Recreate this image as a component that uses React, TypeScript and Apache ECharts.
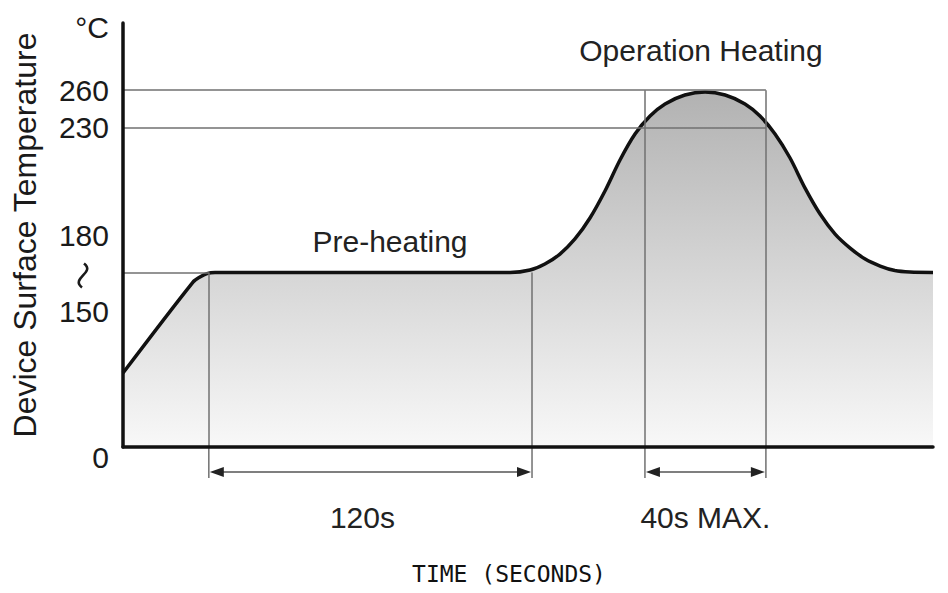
import React, { useEffect, useRef } from 'react';
import * as echarts from 'echarts';

// Reflow profile: time (s) vs. temperature level on the (schematic) drawn axis
const profileTime = [
  0, 26.1, 28.7, 31.3, 34.3, 144.3, 151.75, 157.3, 162.9, 168.5, 174.1, 179.7, 185.3, 190.9, 196.5, 202.1, 209.5, 217,
  224.5, 231.9, 237.5, 243.1, 248.7, 254.3, 259.9, 265.5, 271.1, 276.7, 282.3, 287.8, 293.4, 302,
];
const profileTemp = [
  53.9, 120.2, 123.9, 126.4, 127.2, 127.2, 129.0, 133.4, 140.6, 151.6, 166.9, 186.6, 209.2, 228.1, 241.2, 250.0, 256.5, 258.7,
  256.5, 250.0, 241.2, 228.1, 210.6, 188.7, 169.8, 155.2, 145.0, 137.0, 131.9, 128.6, 127.5, 127.2,
];

// Axis tick labels and the level at which each one sits on the drawn axis
const yLabelText = ['0', '150', '180', '230', '260', '°C'];
const yLabelAt = [0, 99, 154.5, 233, 260, 306];

// Reference levels
const plateauLevel = 127.2;
const peakLevel = 260;
const thresholdLevel = 233;
const squiggleLevel = 125; // "150 ~ 180" range mark between the two labels

// Timed spans (s)
const spanStart = [32, 194.6];
const spanEnd = [152.5, 239.7];
const spanLabels = ['120s', '40s MAX.'];

const spanTopLevel = [plateauLevel, peakLevel];

const TICK_FONT = '"Liberation Sans", Arial, sans-serif';
const TEXT_FONT = '"Liberation Sans", Arial, sans-serif';

export default function App() {
  const ref = useRef<HTMLDivElement>(null);

  useEffect(() => {
    const el = ref.current!;
    const chart = echarts.init(el, null, { renderer: 'svg' });

    const guide = { color: '#707070', width: 1.5, type: 'solid' as const };
    const markData: any[] = [
      [{ coord: [0, peakLevel] }, { coord: [spanEnd[1], peakLevel] }],
      [{ coord: [0, thresholdLevel] }, { coord: [spanEnd[1], thresholdLevel] }],
      [{ coord: [0, plateauLevel] }, { coord: [spanStart[0], plateauLevel] }],
    ];
    spanStart.forEach((s, i) => {
      markData.push([{ coord: [s, spanTopLevel[i]] }, { coord: [s, 0] }]);
      markData.push([{ coord: [spanEnd[i], spanTopLevel[i]] }, { coord: [spanEnd[i], 0] }]);
    });

    const option: any = {
      animation: false,
      backgroundColor: '#ffffff',
      grid: { left: 123, right: 15, top: 23, bottom: 146, outerBoundsMode: 'none', containLabel: false },
      xAxis: {
        type: 'value',
        min: 0,
        max: 302,
        z: 5,
        axisLine: { show: true, onZero: false, lineStyle: { color: '#111', width: 3.5 } },
        axisTick: { show: false },
        axisLabel: { show: false },
        splitLine: { show: false },
        name: 'TIME (SECONDS)',
        nameLocation: 'middle',
        nameGap: 115,
        nameMoveOverlap: false,
        nameTextStyle: {
          fontFamily: '"DejaVu Sans Mono", monospace',
          fontSize: 23,
          color: '#111',
          padding: [0, 38, 0, 0],
        },
      },
      yAxis: {
        type: 'value',
        min: 0,
        max: 309,
        z: 5,
        axisLine: { show: true, onZero: false, lineStyle: { color: '#111', width: 3.5 } },
        axisTick: { show: false },
        splitLine: { show: false },
        axisLabel: {
          customValues: yLabelAt,
          margin: 14,
          color: '#1a1a1a',
          fontFamily: TICK_FONT,
          fontSize: 30,
          formatter: (v: number) => {
            const i = yLabelAt.findIndex((a) => Math.abs(a - v) < 0.01);
            if (i < 0) return '';
            const t = yLabelText[i];
            if (t === '0') return '{zero|0}';
            if (t === '°C') return '{unit|°C}';
            return t;
          },
          rich: {
            zero: { fontFamily: TICK_FONT, fontSize: 30, color: '#1a1a1a', padding: [20, 0, 0, 0] },
            unit: { fontFamily: TEXT_FONT, fontSize: 30, color: '#1a1a1a' },
          },
        },
        name: 'Device Surface Temperature',
        nameLocation: 'middle',
        nameRotate: 90,
        nameGap: 82,
        nameMoveOverlap: false,
        nameTextStyle: { fontFamily: TEXT_FONT, fontSize: 32, color: '#1a1a1a' },
      },
      series: [
        {
          type: 'line',
          data: profileTime.map((t, i) => [t, profileTemp[i]]),
          symbol: 'none',
          smooth: 0.3,
          z: 2,
          lineStyle: { color: '#111', width: 3.5 },
          areaStyle: {
            origin: 'start',
            opacity: 1,
            color: new echarts.graphic.LinearGradient(0, 0, 0, 1, [
              { offset: 0, color: '#b2b2b2' },
              { offset: 1, color: '#f8f8f8' },
            ]),
          },
          markLine: {
            silent: true,
            symbol: ['none', 'none'],
            label: { show: false },
            emphasis: { disabled: true },
            lineStyle: guide,
            data: markData,
          },
        },
      ],
    };

    chart.setOption(option);

    const axisY = chart.convertToPixel({ yAxisIndex: 0 }, 0) as number;
    const axisX = chart.convertToPixel({ xAxisIndex: 0 }, 0) as number;
    const sqY = chart.convertToPixel({ yAxisIndex: 0 }, squiggleLevel) as number;
    const sqX = axisX - 40;
    const elements: any[] = [
      {
        type: 'bezierCurve',
        silent: true,
        shape: {
          x1: sqX + 1, y1: sqY - 12,
          cpx1: sqX + 13, cpy1: sqY - 3,
          cpx2: sqX - 13, cpy2: sqY + 3,
          x2: sqX - 1, y2: sqY + 12,
        },
        style: { stroke: '#1a1a1a', lineWidth: 2.6, fill: null },
      },
      {
        type: 'text',
        x: 390,
        y: 241,
        silent: true,
        style: { text: 'Pre-heating', fontFamily: TEXT_FONT, fontSize: 30, fill: '#222', align: 'center', verticalAlign: 'middle' },
      },
      {
        type: 'text',
        x: 701,
        y: 50,
        silent: true,
        style: { text: 'Operation Heating', fontFamily: TEXT_FONT, fontSize: 30, fill: '#222', align: 'center', verticalAlign: 'middle' },
      },
    ];
    spanStart.forEach((s, i) => {
      const x0 = chart.convertToPixel({ xAxisIndex: 0 }, s) as number;
      const x1 = chart.convertToPixel({ xAxisIndex: 0 }, spanEnd[i]) as number;
      const ay = axisY + 25;
      const lineStyle = { stroke: '#707070', lineWidth: 1.5 };
      elements.push(
        { type: 'line', silent: true, z: 3, shape: { x1: x0, y1: axisY, x2: x0, y2: axisY + 31 }, style: lineStyle },
        { type: 'line', silent: true, z: 3, shape: { x1: x1, y1: axisY, x2: x1, y2: axisY + 31 }, style: lineStyle },
        { type: 'line', silent: true, z: 3, shape: { x1: x0 + 4, y1: ay, x2: x1 - 4, y2: ay }, style: { stroke: '#555', lineWidth: 1.5 } },
        { type: 'polygon', silent: true, z: 3, shape: { points: [[x0 + 1, ay], [x0 + 15, ay - 5], [x0 + 15, ay + 5]] }, style: { fill: '#222' } },
        { type: 'polygon', silent: true, z: 3, shape: { points: [[x1 - 1, ay], [x1 - 15, ay - 5], [x1 - 15, ay + 5]] }, style: { fill: '#222' } },
        {
          type: 'text',
          silent: true,
          z: 3,
          x: (x0 + x1) / 2 - (i === 0 ? 8 : 0),
          y: axisY + 70,
          style: { text: spanLabels[i], fontFamily: TEXT_FONT, fontSize: 30, fill: '#222', align: 'center', verticalAlign: 'middle' },
        }
      );
    });
    chart.setOption({ graphic: { elements } });

    return () => chart.dispose();
  }, []);

  return (
    <div
      ref={ref}
      style={{ position: 'absolute', left: 0, top: 0, width: 948, height: 593, background: '#fff' }}
    />
  );
}
